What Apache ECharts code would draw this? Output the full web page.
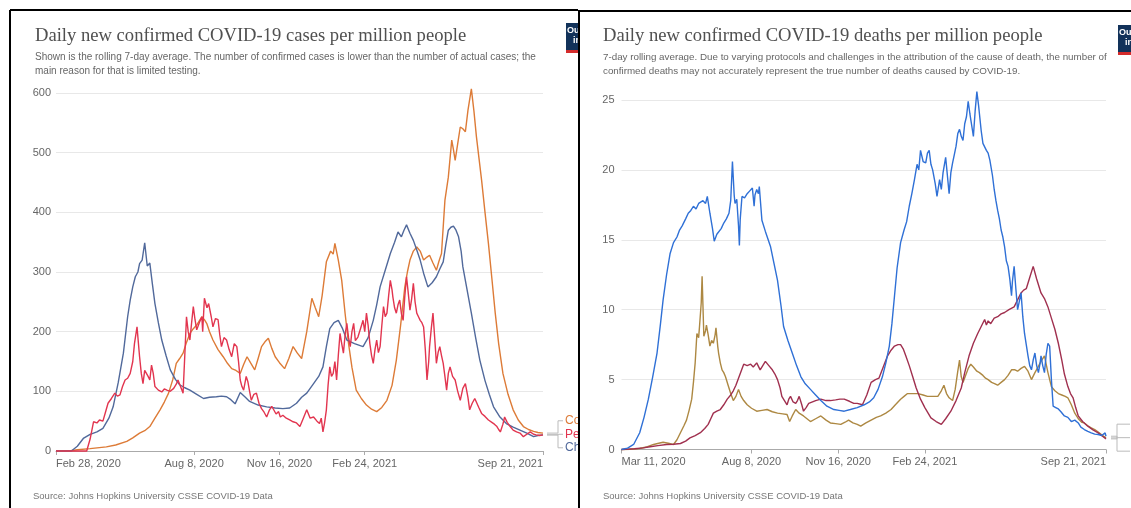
<!DOCTYPE html>
<html><head><meta charset="utf-8">
<script src="https://cdn.jsdelivr.net/npm/echarts@6.0.0/dist/echarts.min.js"></script>
<style>
html,body{margin:0;padding:0;background:#fff;width:1131px;height:508px;overflow:hidden}
#left{position:absolute;left:0;top:0;width:578px;height:508px}
#right{position:absolute;left:578px;top:0;width:553px;height:508px}
</style></head><body>
<div id="left"></div><div id="right"></div>
<script>
// ---------- tick labels ----------
const casesTickDays = [0, 162, 262, 362, 571];          // days since Feb 28, 2020
const casesTickLabels = ['Feb 28, 2020', 'Aug 8, 2020', 'Nov 16, 2020', 'Feb 24, 2021', 'Sep 21, 2021'];
const deathsTickDays = [0, 150, 250, 350, 559];         // days since Mar 11, 2020
const deathsTickLabels = ['Mar 11, 2020', 'Aug 8, 2020', 'Nov 16, 2020', 'Feb 24, 2021', 'Sep 21, 2021'];

// ---------- cases per million (day offset, value) ----------
const colombiaCases = [[0,0],[15,0],[25,2],[40,4],[59,7],[70,10],[83,16],[90,22],[98,30],[104,34],[110,41],[116,55],[122,69],[127,82],[132,97],[137,120],[141,147],[145,155],[149,164],[153,182],[157,197],[161,205],[165,211],[168,218],[171,225],[174,220],[177,213],[180,200],[184,186],[190,170],[196,158],[201,147],[206,138],[211,135],[216,130],[220,145],[224,158],[228,148],[233,136],[237,155],[241,175],[245,183],[249,189],[253,172],[257,158],[262,148],[268,138],[273,155],[278,175],[283,164],[288,155],[294,200],[300,256],[304,240],[308,225],[312,260],[317,317],[322,335],[325,330],[327,348],[331,320],[335,286],[339,230],[343,180],[347,140],[352,102],[358,88],[364,77],[370,70],[376,66],[382,73],[388,85],[394,110],[399,152],[404,210],[409,275],[412,300],[415,320],[419,335],[423,342],[427,335],[431,320],[435,325],[438,328],[442,315],[446,303],[449,318],[452,331],[456,420],[460,459],[464,521],[466,505],[468,487],[471,515],[474,543],[477,540],[480,535],[483,571],[487,607],[490,570],[493,526],[496,490],[499,454],[503,400],[507,348],[511,290],[515,231],[519,180],[524,130],[530,95],[536,69],[542,52],[548,41],[554,36],[560,33],[565,31],[571,30]];
const peruCases = [[0,0],[36,0],[40,20],[44,49],[48,47],[51,52],[55,50],[58,65],[61,80],[65,88],[69,97],[72,92],[75,94],[78,108],[81,119],[84,122],[87,130],[90,150],[92,180],[95,208],[98,158],[100,130],[102,113],[104,135],[106,138],[108,125],[110,119],[112,144],[114,130],[116,108],[120,102],[124,99],[127,104],[130,102],[134,100],[138,105],[141,112],[143,119],[146,108],[149,97],[151,160],[153,225],[155,200],[157,186],[159,215],[161,242],[163,220],[165,203],[168,215],[171,225],[172,200],[174,256],[177,240],[179,247],[182,225],[184,208],[187,222],[190,220],[192,195],[194,175],[197,190],[200,186],[203,170],[206,158],[209,180],[212,175],[214,150],[216,119],[218,108],[220,102],[223,125],[225,116],[227,100],[229,85],[232,95],[235,97],[238,80],[241,71],[244,65],[247,57],[250,68],[253,75],[255,74],[258,62],[261,66],[263,57],[266,60],[270,55],[274,52],[278,49],[282,47],[286,41],[290,55],[294,69],[298,55],[302,57],[306,50],[309,46],[311,55],[313,32],[315,48],[317,69],[319,110],[321,141],[323,125],[325,130],[327,150],[329,119],[331,160],[333,197],[335,180],[337,164],[339,195],[341,214],[343,190],[345,175],[347,200],[349,214],[351,185],[354,191],[357,205],[360,219],[362,200],[364,231],[366,210],[368,180],[370,160],[372,147],[374,170],[376,186],[378,165],[380,175],[382,210],[384,242],[386,225],[388,231],[390,260],[392,286],[394,270],[395,258],[397,240],[399,231],[401,245],[403,253],[405,230],[407,219],[409,260],[411,292],[413,265],[415,236],[417,255],[419,281],[421,250],[423,231],[425,225],[427,219],[429,215],[431,208],[433,170],[435,119],[437,150],[438,175],[440,205],[442,231],[444,190],[446,147],[448,165],[450,175],[452,160],[454,147],[456,125],[458,102],[460,130],[462,141],[465,125],[468,119],[471,100],[474,85],[477,105],[480,113],[483,90],[485,69],[488,80],[491,88],[493,85],[496,72],[499,63],[503,58],[507,52],[511,48],[514,45],[517,41],[519,36],[521,32],[524,45],[526,57],[529,48],[532,42],[536,35],[540,32],[544,30],[548,24],[552,28],[556,32],[560,28],[563,27],[567,26],[571,27]];
const chileCases = [[0,0],[18,0],[25,8],[32,21],[40,28],[48,32],[55,38],[62,55],[67,74],[73,115],[79,164],[84,225],[87,253],[90,275],[93,292],[96,300],[98,314],[101,320],[104,349],[107,310],[110,315],[113,280],[116,247],[120,215],[124,186],[129,160],[134,136],[140,120],[145,111],[151,106],[157,102],[165,95],[173,88],[180,90],[188,91],[194,92],[200,91],[205,86],[210,79],[216,98],[222,90],[227,83],[237,77],[247,74],[257,72],[266,71],[274,72],[282,80],[288,90],[294,97],[302,113],[308,125],[313,141],[317,175],[321,205],[326,215],[331,219],[336,205],[341,186],[350,180],[360,175],[366,190],[372,219],[376,245],[380,275],[386,303],[392,331],[397,350],[401,367],[405,359],[408,370],[411,379],[415,365],[419,353],[423,337],[427,320],[431,298],[436,275],[441,282],[446,292],[450,305],[454,317],[457,345],[460,370],[463,375],[466,377],[469,370],[472,359],[475,335],[477,309],[482,270],[487,231],[492,190],[497,152],[503,118],[508,95],[513,74],[520,58],[528,46],[536,40],[544,35],[552,30],[560,24],[565,26],[571,27]];

// ---------- deaths per million (day offset, value) ----------
const peruDeaths = [[0,0],[7,0.1],[14,0.36],[21,1.2],[26,2.3],[31,3.6],[36,5.2],[41,6.9],[45,9.0],[48,10.7],[52,12.5],[56,14.0],[60,14.8],[64,15.2],[67,15.7],[70,16.0],[74,16.5],[77,16.9],[80,17.1],[83,17.4],[86,17.2],[89,17.6],[91,17.5],[94,17.8],[97,17.6],[99,18.1],[102,16.9],[105,15.8],[107,14.9],[110,15.4],[112,15.5],[115,15.8],[118,16.2],[121,16.5],[124,16.9],[126,17.8],[128,20.6],[130,18.2],[131,17.6],[133,17.9],[135,16.0],[136,14.6],[137,16.5],[139,18.1],[142,18.0],[145,18.3],[148,18.5],[151,18.7],[153,17.4],[154,18.2],[156,18.6],[158,18.3],[159,18.8],[162,16.4],[166,15.6],[172,14.5],[176,13.3],[180,12.1],[184,10.3],[187,8.8],[192,7.8],[197,6.9],[202,6.0],[207,5.2],[212,4.7],[218,4.3],[224,3.9],[230,3.5],[237,3.1],[245,2.86],[251,2.8],[257,2.74],[264,2.86],[272,3.0],[280,3.2],[286,3.4],[291,3.7],[296,4.3],[301,5.2],[305,6.2],[309,7.4],[312,9.0],[315,11.0],[318,13.0],[322,14.8],[326,15.7],[329,16.3],[332,17.4],[335,18.3],[338,19.3],[341,20.4],[343,20.0],[345,21.4],[348,20.6],[351,20.5],[353,21.2],[355,21.4],[357,20.4],[359,20.0],[362,19.0],[364,18.1],[367,19.3],[369,18.6],[371,19.8],[374,20.9],[376,19.6],[378,18.3],[380,19.8],[382,20.5],[384,21.1],[386,21.7],[388,22.6],[390,22.9],[392,22.4],[394,22.1],[396,23.3],[398,23.8],[400,24.9],[402,24.0],[403,23.6],[405,22.8],[406,22.4],[408,24.2],[410,25.6],[412,24.6],[413,24.0],[415,22.8],[417,21.9],[419,21.8],[421,21.4],[423,21.2],[425,20.7],[428,19.6],[430,18.6],[432,17.8],[434,17.1],[436,16.5],[438,15.7],[440,15.2],[442,14.5],[444,13.5],[446,13.1],[448,12.2],[450,11.0],[451,12.0],[453,13.1],[455,11.5],[457,10.0],[459,10.6],[461,11.2],[463,9.5],[465,8.3],[467,7.5],[469,6.7],[471,6.0],[473,5.7],[475,6.4],[477,6.9],[479,6.0],[481,5.5],[483,6.2],[484,6.7],[486,6.0],[488,5.5],[490,6.8],[492,7.6],[494,7.4],[496,5.0],[498,3.1],[501,3.0],[504,2.9],[507,2.7],[511,2.4],[515,2.3],[519,2.0],[523,2.1],[527,1.9],[530,1.6],[534,1.43],[538,1.3],[542,1.19],[546,1.1],[550,1.07],[554,1.0],[558,1.19],[559,0.95]];
const colombiaDeaths = [[0,0],[15,0.05],[25,0.12],[33,0.2],[42,0.28],[52,0.36],[60,0.38],[68,0.43],[74,0.6],[79,0.83],[85,1.0],[91,1.2],[96,1.5],[100,1.8],[103,2.2],[106,2.6],[110,2.75],[114,2.86],[118,3.2],[122,3.6],[126,3.9],[129,4.2],[132,4.6],[135,5.1],[138,5.6],[141,6.1],[145,6.0],[149,6.1],[152,5.9],[156,6.2],[160,5.7],[163,6.0],[166,6.3],[170,6.0],[174,5.7],[177,5.4],[180,5.0],[183,4.4],[185,3.8],[188,3.5],[191,3.2],[193,3.6],[195,3.8],[198,3.4],[201,3.3],[203,3.5],[205,3.8],[208,3.2],[210,2.74],[213,3.0],[216,3.3],[218,3.3],[224,3.5],[230,3.6],[236,3.5],[241,3.5],[247,3.55],[252,3.6],[257,3.6],[263,3.45],[268,3.3],[272,3.3],[278,3.2],[283,3.9],[288,4.8],[293,5.0],[297,5.1],[302,5.9],[307,6.7],[311,7.1],[315,7.4],[319,7.5],[322,7.5],[325,7.2],[328,6.7],[332,6.0],[336,5.2],[340,4.4],[345,3.6],[350,3.0],[357,2.26],[363,2.0],[369,1.8],[374,2.2],[380,2.74],[386,3.5],[392,4.4],[396,5.5],[401,6.7],[406,7.6],[411,8.3],[415,8.8],[419,9.3],[421,8.9],[423,9.2],[426,9.0],[430,9.4],[434,9.5],[438,9.7],[442,9.8],[447,10.0],[453,10.2],[457,10.7],[461,11.2],[464,11.4],[467,11.5],[471,12.3],[475,13.1],[479,12.2],[484,11.2],[488,10.8],[492,10.2],[496,9.4],[500,8.6],[504,7.6],[508,6.4],[511,5.4],[515,4.5],[518,4.0],[521,3.7],[524,3.0],[527,2.4],[532,2.0],[538,1.67],[544,1.4],[550,1.19],[555,0.95],[559,0.76]];
const chileDeaths = [[0,0],[10,0.02],[21,0.07],[30,0.2],[37,0.36],[43,0.45],[48,0.52],[54,0.45],[60,0.36],[64,0.7],[68,1.2],[72,1.7],[75,2.1],[78,2.8],[81,3.6],[83,4.8],[85,6.2],[87,8.3],[89,8.0],[90,8.8],[92,10.5],[93,12.4],[95,8.1],[97,8.5],[98,8.9],[100,8.2],[102,7.4],[104,7.8],[106,7.6],[108,8.2],[109,8.7],[111,7.4],[112,6.9],[114,6.2],[116,5.7],[118,5.5],[120,5.2],[123,4.6],[126,4.0],[129,3.5],[132,3.8],[135,4.3],[138,3.8],[141,3.5],[145,3.2],[150,2.95],[156,2.74],[162,2.8],[168,2.86],[174,2.7],[180,2.6],[186,2.55],[191,2.5],[194,2.0],[197,2.4],[201,2.86],[205,2.6],[210,2.4],[214,2.2],[218,2.0],[224,2.2],[230,2.4],[236,2.1],[241,1.9],[247,1.85],[253,1.8],[258,1.95],[262,2.1],[267,1.9],[272,1.8],[276,1.67],[282,1.9],[288,2.1],[294,2.3],[299,2.4],[305,2.6],[311,2.86],[316,3.2],[322,3.6],[326,3.8],[330,4.0],[336,4.0],[342,4.0],[348,3.9],[353,3.8],[359,3.8],[365,3.8],[369,4.2],[372,4.6],[375,4.0],[378,3.7],[382,3.5],[385,4.3],[388,5.6],[390,6.4],[392,5.2],[394,4.8],[397,5.3],[400,5.8],[403,6.1],[406,5.9],[410,5.6],[413,5.5],[417,5.3],[420,5.1],[423,5.0],[427,4.8],[431,4.7],[434,4.6],[438,4.8],[442,5.0],[446,5.3],[450,5.7],[454,5.7],[457,5.6],[461,5.8],[465,5.95],[469,5.6],[473,5.0],[477,5.5],[481,5.95],[484,6.3],[488,6.7],[492,5.5],[496,4.5],[500,4.2],[504,4.0],[508,3.9],[512,3.8],[515,3.7],[519,3.2],[523,2.6],[527,2.2],[531,1.95],[534,1.9],[538,1.7],[542,1.55],[546,1.43],[550,1.25],[554,1.05],[559,0.83]];

const SANS = 'Liberation Sans, Arial, sans-serif';
const SERIF = 'Liberation Serif, Times New Roman, serif';

function buildChart(el, cfg) {
  const chart = echarts.init(el, null, { renderer: 'canvas' });
  const ticks = cfg.tickDays, labels = cfg.tickLabels;
  chart.setOption({
    animation: false,
    backgroundColor: 'transparent',
    title: [{
      text: cfg.title, subtext: cfg.subtitle, left: cfg.textLeft, top: 25, itemGap: 3, padding: 0,
      textStyle: { fontFamily: SERIF, fontSize: 18.6, fontWeight: 'normal', color: '#505050', lineHeight: 22 },
      subtextStyle: { fontFamily: SANS, fontSize: cfg.subSize, color: '#666', lineHeight: 14 }
    }, {
      text: 'Source: Johns Hopkins University CSSE COVID-19 Data', left: cfg.sourceLeft, top: 491, padding: 0,
      textStyle: { fontFamily: SANS, fontSize: 9.5, fontWeight: 'normal', color: '#777' }
    }],
    grid: cfg.grid,
    xAxis: {
      type: 'value', min: 0, max: ticks[ticks.length - 1],
      axisLine: { lineStyle: { color: '#aaa', width: 1 } },
      axisTick: { show: true, customValues: ticks, length: 4, lineStyle: { color: '#aaa' } },
      axisLabel: {
        customValues: ticks, formatter: v => labels[ticks.indexOf(v)] || '',
        fontFamily: SANS, fontSize: 11, color: '#666', margin: 7,
        alignMinLabel: 'left', alignMaxLabel: 'right'
      },
      splitLine: { show: false }
    },
    yAxis: {
      type: 'value', min: 0, max: cfg.yMax, interval: cfg.yInterval,
      axisLine: { show: false }, axisTick: { show: false },
      axisLabel: { fontFamily: SANS, fontSize: 11, color: '#666', margin: cfg.yMargin },
      splitLine: { lineStyle: { color: '#e8e8e8', width: 1 } }
    },
    series: cfg.series.map(s => ({
      name: s.name, type: 'line', data: s.data, showSymbol: false, symbol: 'none',
      clip: false, lineStyle: { color: s.color, width: 1.4 }, itemStyle: { color: s.color },
      emphasis: { disabled: true }, z: s.z || 2
    }))
  });

  // legend connectors + labels placed from the series' last data point
  const ends = cfg.series.map(s => chart.convertToPixel({ gridIndex: 0 }, s.data[s.data.length - 1]));
  const meanY = ends.reduce((a, p) => a + p[1], 0) / ends.length;
  const L = cfg.leg;
  const g = [];
  cfg.series.forEach((s, i) => {
    const p = ends[i];
    const ly = meanY + (i - (cfg.series.length - 1) / 2) * 13.5;
    g.push({ type: 'polyline', silent: true, shape: { points: [[p[0] + L.a, p[1]], [p[0] + L.b, p[1]], [p[0] + L.b, ly], [p[0] + L.c, ly]] },
      style: { stroke: '#bbb', lineWidth: 1, fill: null } });
    g.push({ type: 'text', silent: true, x: p[0] + L.c + 2, y: ly,
      style: { text: s.name, fill: s.color, font: '12px ' + SANS, verticalAlign: 'middle' } });
  });
  // panel borders
  cfg.borders.forEach(b => g.push({ type: 'line', silent: true, shape: b, style: { stroke: '#000', lineWidth: 2 } }));
  // logo badge (partly cut off by the panel edge)
  const bx = cfg.badge[0], by = cfg.badge[1];
  g.push({ type: 'rect', silent: true, shape: { x: bx, y: by, width: 60, height: 30 }, style: { fill: '#12325a' } });
  g.push({ type: 'rect', silent: true, shape: { x: bx, y: by + 27, width: 60, height: 3 }, style: { fill: '#d42b2b' } });
  g.push({ type: 'text', silent: true, x: bx + 1, y: by + 8, style: { text: 'Our World', fill: '#fff', font: 'bold 9px ' + SANS, verticalAlign: 'middle' } });
  g.push({ type: 'text', silent: true, x: bx + 7, y: by + 18, style: { text: 'in Data', fill: '#fff', font: 'bold 9px ' + SANS, verticalAlign: 'middle' } });
  chart.setOption({ graphic: g });
  return chart;
}

buildChart(document.getElementById('left'), {
  title: 'Daily new confirmed COVID-19 cases per million people',
  subtitle: 'Shown is the rolling 7-day average. The number of confirmed cases is lower than the number of actual cases; the\nmain reason for that is limited testing.',
  textLeft: 35, sourceLeft: 33, subSize: 10,
  grid: { left: 56, top: 93, width: 487, height: 358 },
  tickDays: casesTickDays, tickLabels: casesTickLabels,
  yMax: 600, yInterval: 100, yMargin: 5,
  series: [
    { name: 'Colombia', data: colombiaCases, color: '#dd7b37', z: 2 },
    { name: 'Peru', data: peruCases, color: '#e2354f', z: 3 },
    { name: 'Chile', data: chileCases, color: '#51699b', z: 2 }
  ],
  leg: { a: 4, b: 15, c: 20 },
  borders: [{ x1: 10, y1: 10, x2: 10, y2: 508 }, { x1: 10, y1: 10, x2: 578, y2: 10 }],
  badge: [566, 23]
});

buildChart(document.getElementById('right'), {
  title: 'Daily new confirmed COVID-19 deaths per million people',
  subtitle: '7-day rolling average. Due to varying protocols and challenges in the attribution of the cause of death, the number of\nconfirmed deaths may not accurately represent the true number of deaths caused by COVID-19.',
  textLeft: 25, sourceLeft: 25, subSize: 9.8,
  grid: { left: 43.5, top: 100, width: 484.5, height: 349.5 },
  tickDays: deathsTickDays, tickLabels: deathsTickLabels,
  yMax: 25, yInterval: 5, yMargin: 7,
  series: [
    { name: 'Colombia', data: colombiaDeaths, color: '#a0304f', z: 3 },
    { name: 'Chile', data: chileDeaths, color: '#ad8842', z: 2 },
    { name: 'Peru', data: peruDeaths, color: '#2f70d6', z: 4 }
  ],
  leg: { a: 5, b: 11, c: 24 },
  borders: [{ x1: 1, y1: 11, x2: 1, y2: 508 }, { x1: 0, y1: 11, x2: 553, y2: 11 }],
  badge: [540, 25]
});
</script></body></html>
